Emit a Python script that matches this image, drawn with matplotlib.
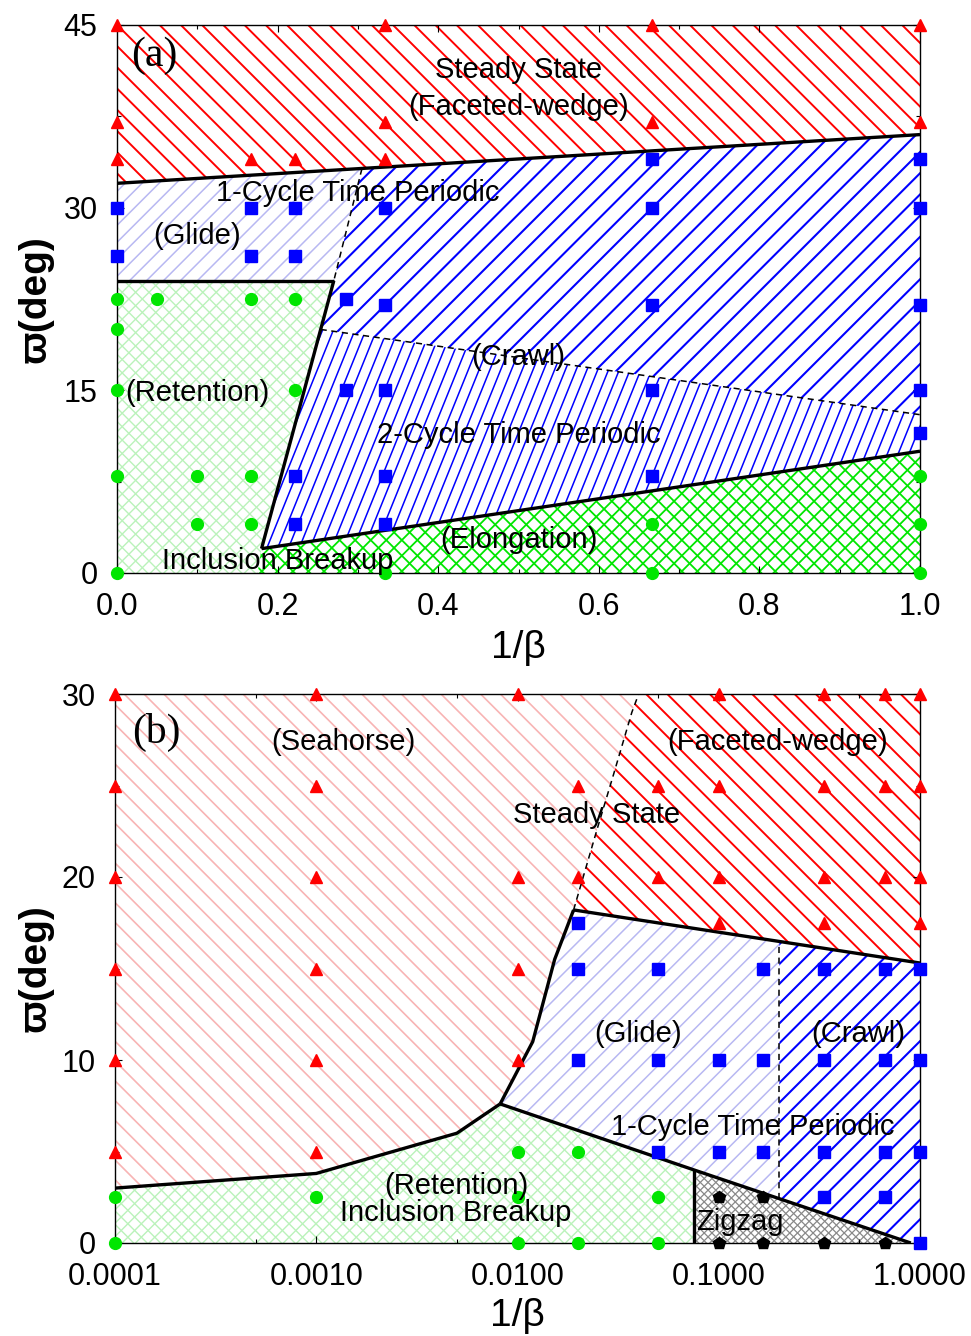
import numpy as np
import matplotlib
matplotlib.use('Agg')
import matplotlib.pyplot as plt
from matplotlib.patches import Polygon
from matplotlib.collections import LineCollection
from matplotlib.ticker import MultipleLocator, FixedLocator, FuncFormatter, NullFormatter

plt.rcParams['font.family'] = ['Liberation Sans', 'DejaVu Sans']

# ---------------- data: panel (a) ----------------
a_steady_x = [0, 0, 0, 1/6, 2/9, 1/3, 1/3, 1/3, 2/3, 2/3, 1, 1]
a_steady_y = [45, 37, 34, 34, 34, 45, 37, 34, 45, 37, 45, 37]
a_periodic_x = [0, 0, 1/6, 1/6, 2/9, 2/9, 1/3, 2/7, 1/3, 2/7, 1/3, 2/9, 1/3, 2/9, 1/3,
                2/3, 2/3, 2/3, 2/3, 2/3, 1, 1, 1, 1, 1]
a_periodic_y = [30, 26, 30, 26, 30, 26, 30, 22.5, 22, 15, 15, 8, 8, 4, 4,
                34, 30, 22, 15, 8, 34, 30, 22, 15, 11.5]
a_breakup_x = [0, 0.05, 1/6, 2/9, 0, 0, 2/9, 0, 0.1, 1/6, 0.1, 1/6, 0, 1/3, 2/3, 2/3, 1, 1, 1]
a_breakup_y = [22.5, 22.5, 22.5, 22.5, 20, 15, 15, 8, 8, 8, 4, 4, 0, 0, 4, 0, 8, 4, 0]

# boundaries (a)
a_top_x, a_top_y = [0, 1], [32, 36]
a_ret_x, a_ret_y = [0, 0.27], [24, 24]
a_steep_x, a_steep_y = [0.27, 0.18], [24, 2]
a_elong_x, a_elong_y = [0.18, 1], [2, 10]
a_base_x = 0.175
a_gdash_x, a_gdash_y = [0.305, 0.27], [33.2, 24]
a_cdash_y = [20, 13]

# ---------------- data: panel (b) ----------------
b_steady_x = [1e-4, 1e-4, 1e-4, 1e-4, 1e-4, 1e-4, 1e-3, 1e-3, 1e-3, 1e-3, 1e-3, 1e-3,
              1e-2, 1e-2, 1e-2, 1e-2, 0.02, 0.02, 0.05, 0.05, 0.1, 0.1, 0.1, 0.1,
              1/3, 1/3, 1/3, 1/3, 2/3, 2/3, 2/3, 1, 1, 1, 1]
b_steady_y = [30, 25, 20, 15, 10, 5, 30, 25, 20, 15, 10, 5,
              30, 20, 15, 10, 25, 20, 25, 20, 30, 25, 20, 17.5,
              30, 25, 20, 17.5, 30, 25, 20, 30, 25, 20, 17.5]
b_periodic_x = [0.02, 0.02, 0.02, 0.05, 0.05, 0.05, 0.1, 0.1, 1/6, 1/6, 1/6,
                1/3, 1/3, 1/3, 1/3, 2/3, 2/3, 2/3, 2/3, 1, 1, 1, 1]
b_periodic_y = [17.5, 15, 10, 15, 10, 5, 10, 5, 15, 10, 5,
                15, 10, 5, 2.5, 15, 10, 5, 2.5, 15, 10, 5, 0]
b_breakup_x = [1e-4, 1e-4, 1e-3, 1e-2, 1e-2, 1e-2, 0.02, 0.02, 0.05, 0.05]
b_breakup_y = [2.5, 0, 2.5, 5, 2.5, 0, 5, 0, 2.5, 0]
b_zigzag_x = [0.1, 0.1, 1/6, 1/6, 1/3, 2/3]
b_zigzag_y = [2.5, 0, 2.5, 0, 0, 0]

# boundaries (b)
b_low_x, b_low_y = [1e-4, 1e-3, 5e-3, 0.0082], [3.0, 3.8, 6.0, 7.6]
b_steep_x, b_steep_y = [0.0082, 0.0119, 0.0153, 0.019], [7.6, 11.0, 15.5, 18.2]
b_top_x, b_top_y = [0.019, 1.0], [18.2, 15.3]
b_bot_x, b_bot_y = [0.0082, 0.075, 0.9], [7.6, 4.0, 0.0]
b_sdash_x, b_sdash_y = [0.019, 0.025, 0.03, 0.037, 0.04], [18.2, 22.7, 25.6, 29.0, 30.0]
b_zig_x = 0.075
b_cdash_x = 0.2

FIG_W, FIG_H, DPI = 9.71, 13.36, 100
fig = plt.figure(figsize=(FIG_W, FIG_H), dpi=DPI)
axA = fig.add_axes([117/971, 1 - 573/1336, 803/971, 548/1336])
axB = fig.add_axes([115/971, 1 - 1243/1336, 805/971, 549/1336])

PINK = '#f8b4b4'
LBLUE = '#b8b8f2'
LGREEN = '#baf2ba'
RED = '#ff0000'
BLUE = '#0000ff'
GREEN = '#00e600'


def hatch(ax, poly_xy, angles, spacing, color, lw, z=1):
    poly = Polygon(poly_xy, closed=True, facecolor='none', edgecolor='none',
                   lw=0, transform=ax.transData)
    ax.add_patch(poly)
    bb = ax.get_position()
    W = bb.width * FIG_W * DPI
    H = bb.height * FIG_H * DPI
    diag = np.hypot(W, H)
    c = np.array([W / 2, H / 2])
    for ang in angles:
        th = np.deg2rad(ang)
        d = np.array([np.cos(th), np.sin(th)])
        n = np.array([-np.sin(th), np.cos(th)])
        segs = []
        for k in np.arange(-int(diag / spacing) - 1, int(diag / spacing) + 2):
            p = c + n * k * spacing
            a = p - d * diag
            b = p + d * diag
            segs.append([(a[0] / W, a[1] / H), (b[0] / W, b[1] / H)])
        lc = LineCollection(segs, colors=color, linewidths=lw,
                            transform=ax.transAxes, zorder=z)
        ax.add_collection(lc, autolim=False)
        lc.set_clip_path(poly)


# ---------------- panel (a) regions ----------------
xs20 = np.interp(a_cdash_y[0], a_steep_y[::-1], a_steep_x[::-1])
faceted_a = [(0, 45), (1, 45), (a_top_x[1], a_top_y[1]), (a_top_x[0], a_top_y[0])]
glide_a = [(a_top_x[0], a_top_y[0]), (a_gdash_x[0], a_gdash_y[0]),
           (a_gdash_x[1], a_gdash_y[1]), (a_ret_x[0], a_ret_y[0])]
crawl_a = [(a_gdash_x[1], a_gdash_y[1]), (a_gdash_x[0], a_gdash_y[0]),
           (a_top_x[1], a_top_y[1]), (1, a_cdash_y[1]), (xs20, a_cdash_y[0])]
two_a = [(xs20, a_cdash_y[0]), (1, a_cdash_y[1]), (a_elong_x[1], a_elong_y[1]),
         (a_elong_x[0], a_elong_y[0])]
ret_a = [(0, 0), (a_ret_x[0], a_ret_y[0]), (a_ret_x[1], a_ret_y[1]),
         (a_steep_x[1], a_steep_y[1]), (a_base_x, 0)]
elong_a = [(a_base_x, 0), (a_elong_x[0], a_elong_y[0]), (a_elong_x[1], a_elong_y[1]), (1, 0)]

hatch(axA, faceted_a, [-45], 15, RED, 1.4)
hatch(axA, glide_a, [45], 12, LBLUE, 1.1)
hatch(axA, crawl_a, [45], 15, BLUE, 1.5)
hatch(axA, two_a, [68], 10, BLUE, 1.1)
hatch(axA, ret_a, [45, -45], 9.5, LGREEN, 1.0)
hatch(axA, elong_a, [45, -45], 11, GREEN, 1.3)

blk = dict(color='black', lw=2.4, zorder=4, solid_capstyle='butt')
axA.plot(a_top_x, a_top_y, **blk)
axA.plot(a_ret_x, a_ret_y, **blk)
axA.plot(a_steep_x, a_steep_y, **blk)
axA.plot(a_elong_x, a_elong_y, **blk)
axA.plot(a_gdash_x, a_gdash_y, color='black', lw=1.1, ls=(0, (4, 3)), zorder=4)
axA.plot([xs20, 1], a_cdash_y, color='black', lw=1.1, ls=(0, (4, 3)), zorder=4)

mk = dict(ls='none', clip_on=False, zorder=6)
axA.plot(a_steady_x, a_steady_y, marker='^', ms=9, color=RED, **mk)
axA.plot(a_periodic_x, a_periodic_y, marker='s', ms=8, color=BLUE, **mk)
axA.plot(a_breakup_x, a_breakup_y, marker='o', ms=8.5, color=GREEN, **mk)

axA.set_xlim(0, 1)
axA.set_ylim(0, 45)
axA.xaxis.set_major_locator(MultipleLocator(0.2))
axA.xaxis.set_minor_locator(MultipleLocator(0.1))
axA.yaxis.set_major_locator(MultipleLocator(15))
axA.yaxis.set_minor_locator(MultipleLocator(7.5))
axA.xaxis.set_major_formatter(FuncFormatter(lambda v, p: '%.1f' % v))

TS = 21
SERIF = ['Liberation Serif', 'DejaVu Serif']
axA.text(0.047, 42.5, '(a)', family=SERIF, fontsize=30,
         ha='center', va='center', zorder=7)
axA.text(0.5, 41.3, 'Steady State', fontsize=TS, ha='center', va='center', zorder=7)
axA.text(0.5, 38.3, '(Faceted-wedge)', fontsize=TS, ha='center', va='center', zorder=7)
axA.text(0.30, 31.2, '1-Cycle Time Periodic', fontsize=TS, ha='center', va='center', zorder=7)
axA.text(0.10, 27.7, '(Glide)', fontsize=TS, ha='center', va='center', zorder=7)
axA.text(0.10, 14.8, '(Retention)', fontsize=TS, ha='center', va='center', zorder=7)
axA.text(0.50, 17.7, '(Crawl)', fontsize=TS, ha='center', va='center', zorder=7)
axA.text(0.50, 11.3, '2-Cycle Time Periodic', fontsize=TS, ha='center', va='center', zorder=7)
axA.text(0.50, 2.7, '(Elongation)', fontsize=TS, ha='center', va='center', zorder=7)
axA.text(0.20, 0.95, 'Inclusion Breakup', fontsize=TS, ha='center', va='center', zorder=7)

# ---------------- panel (b) regions ----------------
lx = np.log10
y_top_c = np.interp(lx(b_cdash_x), lx(b_top_x), b_top_y)
y_bot_c = np.interp(lx(b_cdash_x), lx(b_bot_x), b_bot_y)
y_bot_z = np.interp(lx(b_zig_x), lx(b_bot_x), b_bot_y)

sea_b = ([(1e-4, 30)] + list(zip(b_sdash_x[::-1], b_sdash_y[::-1])) +
         list(zip(b_steep_x[::-1], b_steep_y[::-1])) + list(zip(b_low_x[::-1], b_low_y[::-1])))
fac_b = ([(b_sdash_x[-1], b_sdash_y[-1]), (1, 30), (b_top_x[1], b_top_y[1])] +
         list(zip(b_sdash_x, b_sdash_y)))
glide_b = (list(zip(b_steep_x, b_steep_y)) + [(b_cdash_x, y_top_c), (b_cdash_x, y_bot_c)] +
           [(b_bot_x[1], b_bot_y[1])])
crawl_b = [(b_cdash_x, y_top_c), (b_top_x[1], b_top_y[1]), (1, 0), (b_bot_x[2], b_bot_y[2]),
           (b_cdash_x, y_bot_c)]
ret_b = [(1e-4, 0)] + list(zip(b_low_x, b_low_y)) + [(b_zig_x, y_bot_z), (b_zig_x, 0)]
zig_b = [(b_zig_x, 0), (b_zig_x, y_bot_z), (b_bot_x[2], b_bot_y[2])]

hatch(axB, sea_b, [-45], 14, PINK, 1.2)
hatch(axB, fac_b, [-45], 15, RED, 1.4)
hatch(axB, glide_b, [45], 12, LBLUE, 1.1)
hatch(axB, crawl_b, [45], 14, BLUE, 1.5)
hatch(axB, ret_b, [45, -45], 9.5, LGREEN, 1.0)
hatch(axB, zig_b, [45, -45], 5.5, '#888888', 0.9)

axB.plot(b_low_x, b_low_y, **blk)
axB.plot(b_steep_x, b_steep_y, **blk)
axB.plot(b_top_x, b_top_y, **blk)
axB.plot(b_bot_x, b_bot_y, **blk)
axB.plot([b_zig_x, b_zig_x], [0, y_bot_z], **blk)
axB.plot(b_sdash_x, b_sdash_y, color='black', lw=1.1, ls=(0, (4, 3)), zorder=4)
axB.plot([b_cdash_x, b_cdash_x], [y_bot_c, y_top_c], color='black', lw=1.1,
         ls=(0, (4, 3)), zorder=4)

axB.plot(b_steady_x, b_steady_y, marker='^', ms=9, color=RED, **mk)
axB.plot(b_periodic_x, b_periodic_y, marker='s', ms=8, color=BLUE, **mk)
axB.plot(b_breakup_x, b_breakup_y, marker='o', ms=8.5, color=GREEN, **mk)
axB.plot(b_zigzag_x, b_zigzag_y, marker='p', ms=9, color='black', **mk)

axB.set_xscale('log')
axB.set_xlim(1e-4, 1)
axB.set_ylim(0, 30)
axB.xaxis.set_major_locator(FixedLocator([1e-4, 1e-3, 1e-2, 1e-1, 1]))
axB.xaxis.set_minor_locator(FixedLocator([5e-4, 5e-3, 5e-2, 5e-1]))
axB.xaxis.set_major_formatter(FuncFormatter(lambda v, p: '%.4f' % v))
axB.xaxis.set_minor_formatter(NullFormatter())
axB.yaxis.set_major_locator(MultipleLocator(10))
axB.yaxis.set_minor_locator(MultipleLocator(5))

axB.text(1.6e-4, 27.9, '(b)', family=SERIF, fontsize=30,
         ha='center', va='center', zorder=7)
axB.text(1.37e-3, 27.4, '(Seahorse)', fontsize=TS, ha='center', va='center', zorder=7)
axB.text(0.197, 27.4, '(Faceted-wedge)', fontsize=TS, ha='center', va='center', zorder=7)
axB.text(0.0246, 23.4, 'Steady State', fontsize=TS, ha='center', va='center', zorder=7)
axB.text(0.0397, 11.4, '(Glide)', fontsize=TS, ha='center', va='center', zorder=7)
axB.text(0.492, 11.4, '(Crawl)', fontsize=TS, ha='center', va='center', zorder=7)
axB.text(0.148, 6.35, '1-Cycle Time Periodic', fontsize=TS, ha='center', va='center', zorder=7)
axB.text(4.95e-3, 3.1, '(Retention)', fontsize=TS, ha='center', va='center', zorder=7)
axB.text(4.95e-3, 1.65, 'Inclusion Breakup', fontsize=TS, ha='center', va='center', zorder=7)
axB.text(0.127, 1.15, 'Zigzag', fontsize=TS, ha='center', va='center', zorder=7)

for ax in (axA, axB):
    for s in ax.spines.values():
        s.set_linewidth(1.0)
        s.set_zorder(5)
    ax.tick_params(which='both', direction='in', top=True, right=True, labelsize=22)
    ax.tick_params(axis='x', pad=14)
    ax.tick_params(axis='y', pad=14)
    ax.tick_params(which='major', length=5, width=0.8)
    ax.tick_params(which='minor', length=3, width=0.8)
    ax.set_xlabel('1/β', fontsize=28)
    ax.set_ylabel('ϖ(deg)', fontsize=28, fontweight='bold')

axA.xaxis.set_label_coords(0.5, -(648 - 573) / 548)
axA.xaxis.label.set_va('center')
axA.yaxis.set_label_coords(-(117 - 35) / 803, 0.5)
axA.yaxis.label.set_va('center')
axB.xaxis.set_label_coords(0.5, -(1316 - 1243) / 549)
axB.xaxis.label.set_va('center')
axB.yaxis.set_label_coords(-(115 - 35) / 805, 0.5)
axB.yaxis.label.set_va('center')

fig.savefig('out.png', dpi=DPI)
